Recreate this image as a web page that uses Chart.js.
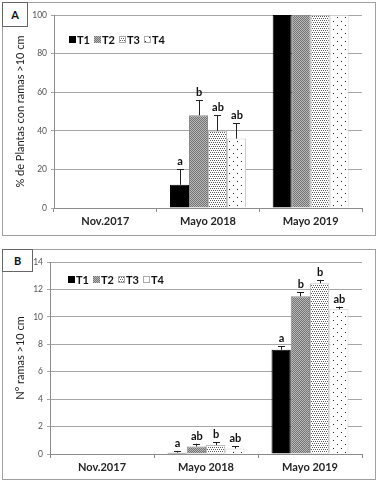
<!DOCTYPE html>
<html>
<head>
<meta charset="UTF-8">
<title>Ramas</title>
<script src="https://cdn.jsdelivr.net/npm/chart.js@4"></script>
<style>
  body { margin: 0; background: #fff; width: 379px; height: 486px; position: relative; overflow: hidden; }
  .frame { position: absolute; border: 1px solid #a0a0a0; box-sizing: border-box; background: #fff; }
  .tag { position: absolute; border: 1px solid #666; box-sizing: border-box; background: #fff;
         font: bold 11px Lato, sans-serif; color: #111; text-align: center; }
  canvas { position: absolute; left: 0; }
</style>
</head>
<body>
<div class="frame" style="left:2px;top:2px;width:374px;height:234px"></div>
<div class="frame" style="left:2px;top:249px;width:374px;height:231px"></div>
<canvas id="chartA" width="379" height="240" style="top:0"></canvas>
<canvas id="chartB" width="379" height="243" style="top:243px"></canvas>
<div class="tag" style="left:2px;top:2px;width:26px;height:25px;line-height:23px">A</div>
<div class="tag" style="left:2px;top:249px;width:31px;height:23px;line-height:21px">B</div>

<script>
// categories and series
var fechas = ['Nov.2017', 'Mayo 2018', 'Mayo 2019'];
var tratamientos = ['T1', 'T2', 'T3', 'T4'];

// A: % de plantas con ramas >10 cm
var pctT1 = [0, 12, 100];
var pctT2 = [0, 48, 100];
var pctT3 = [0, 40, 100];
var pctT4 = [0, 36, 100];
var errPctT1 = [0, 8, 0];
var errPctT2 = [0, 8, 0];
var errPctT3 = [0, 8, 0];
var errPctT4 = [0, 8, 0];
var letPctT1 = ['', 'a', ''];
var letPctT2 = ['', 'b', ''];
var letPctT3 = ['', 'ab', ''];
var letPctT4 = ['', 'ab', ''];

// B: N° ramas >10 cm
var ramT1 = [0, 0.1, 7.6];
var ramT2 = [0, 0.55, 11.5];
var ramT3 = [0, 0.65, 12.45];
var ramT4 = [0, 0.4, 10.55];
var errRamT1 = [0, 0.1, 0.25];
var errRamT2 = [0, 0.2, 0.3];
var errRamT3 = [0, 0.2, 0.25];
var errRamT4 = [0, 0.15, 0.2];
var letRamT1 = ['', 'a', 'a'];
var letRamT2 = ['', 'ab', 'b'];
var letRamT3 = ['', 'b', 'b'];
var letRamT4 = ['', 'ab', 'ab'];

Chart.defaults.font.family = 'Lato, sans-serif';

function makePattern(size, bg, ink, dots) {
    var c = document.createElement('canvas');
    c.width = size; c.height = size;
    var x = c.getContext('2d');
    x.fillStyle = bg;
    x.fillRect(0, 0, size, size);
    x.fillStyle = ink;
    dots.forEach(function (d) { x.fillRect(d[0], d[1], 1, 1); });
    return x.createPattern(c, 'repeat');
}

var fills = [
    '#000000',
    makePattern(2, '#b8b8b8', '#747474', [[0, 0], [1, 1]]),
    makePattern(4, '#ffffff', '#606060', [[0, 0], [2, 0], [1, 2], [3, 2]]),
    makePattern(8, '#ffffff', '#222222', [[1, 1], [5, 5]])
];
var borders = ['#000000', '#8c8c8c', '#bdbdbd', '#cfcfcf'];

// error bars, letters and legend
var extras = {
    id: 'extras',
    afterDatasetsDraw: function (chart, args, opts) {
        var ctx = chart.ctx;
        var y = chart.scales.y;
        ctx.save();
        chart.data.datasets.forEach(function (ds, i) {
            var meta = chart.getDatasetMeta(i);
            meta.data.forEach(function (bar, j) {
                var top = y.getPixelForValue(ds.data[j] + ds.err[j]);
                if (ds.err[j] > 0) {
                    ctx.strokeStyle = '#222';
                    ctx.lineWidth = 1;
                    ctx.beginPath();
                    ctx.moveTo(Math.round(bar.x) + 0.5, bar.y);
                    ctx.lineTo(Math.round(bar.x) + 0.5, top);
                    ctx.moveTo(Math.round(bar.x) - 3, Math.round(top) + 0.5);
                    ctx.lineTo(Math.round(bar.x) + 4, Math.round(top) + 0.5);
                    ctx.stroke();
                }
                if (ds.letters[j]) {
                    ctx.fillStyle = '#111';
                    ctx.font = 'bold 11px Lato, sans-serif';
                    ctx.textAlign = 'center';
                    ctx.textBaseline = 'alphabetic';
                    ctx.fillText(ds.letters[j], bar.x + 0.5, top - 4);
                }
            });
        });
        // legend inside plot
        var lx = opts.x, ly = opts.y;
        chart.data.datasets.forEach(function (ds, i) {
            var bx = lx + i * 25;
            ctx.fillStyle = ds.backgroundColor;
            ctx.fillRect(bx, ly - 3, 7, 7);
            if (i > 1) {
                ctx.strokeStyle = '#aaa';
                ctx.strokeRect(bx + 0.5, ly - 2.5, 6, 6);
            }
            ctx.fillStyle = '#111';
            ctx.font = 'bold 11px Lato, sans-serif';
            ctx.textAlign = 'left';
            ctx.textBaseline = 'middle';
            ctx.fillText(ds.label, bx + 8, ly + 1);
        });
        ctx.restore();
    }
};

function buildSets(vals, errs, lets) {
    return tratamientos.map(function (t, i) {
        return {
            label: t,
            data: vals[i],
            err: errs[i],
            letters: lets[i],
            backgroundColor: fills[i],
            borderColor: borders[i],
            borderWidth: 1,
            categoryPercentage: 0.74,
            barPercentage: 1.0
        };
    });
}

function buildChart(id, sets, yMax, yStep, yTitle, axisW, padTop, legendPos) {
    return new Chart(document.getElementById(id), {
        type: 'bar',
        data: { labels: fechas, datasets: sets },
        options: {
            responsive: false,
            animation: false,
            layout: { padding: { top: padTop, right: 17, bottom: 0, left: 0 } },
            plugins: {
                legend: { display: false },
                tooltip: { enabled: false },
                extras: legendPos
            },
            scales: {
                x: {
                    afterFit: function (s) { s.height = 32; },
                    grid: { offset: true, drawOnChartArea: false, color: '#8c8c8c', tickLength: 4 },
                    border: { color: '#8c8c8c' },
                    ticks: { color: '#262626', font: { size: 11, weight: 'bold' }, padding: 3 }
                },
                y: {
                    min: 0,
                    max: yMax,
                    afterFit: function (s) { s.width = axisW; },
                    ticks: { stepSize: yStep, color: '#555', font: { size: 8.5 }, padding: 4 },
                    grid: { color: '#a6a6a6', tickLength: 3 },
                    border: { color: '#8c8c8c' },
                    title: {
                        display: true,
                        text: yTitle,
                        color: '#222',
                        font: { size: 11 },
                        padding: { top: 14, bottom: 0 }
                    }
                }
            }
        },
        plugins: [extras]
    });
}

buildChart('chartA',
    buildSets([pctT1, pctT2, pctT3, pctT4], [errPctT1, errPctT2, errPctT3, errPctT4], [letPctT1, letPctT2, letPctT3, letPctT4]),
    100, 20, '% de Plantas con ramas >10 cm', 54, 15, { x: 69, y: 39 });

buildChart('chartB',
    buildSets([ramT1, ramT2, ramT3, ramT4], [errRamT1, errRamT2, errRamT3, errRamT4], [letRamT1, letRamT2, letRamT3, letRamT4]),
    14, 2, 'N° ramas >10 cm', 50, 19, { x: 68, y: 36 });
</script>
</body>
</html>
